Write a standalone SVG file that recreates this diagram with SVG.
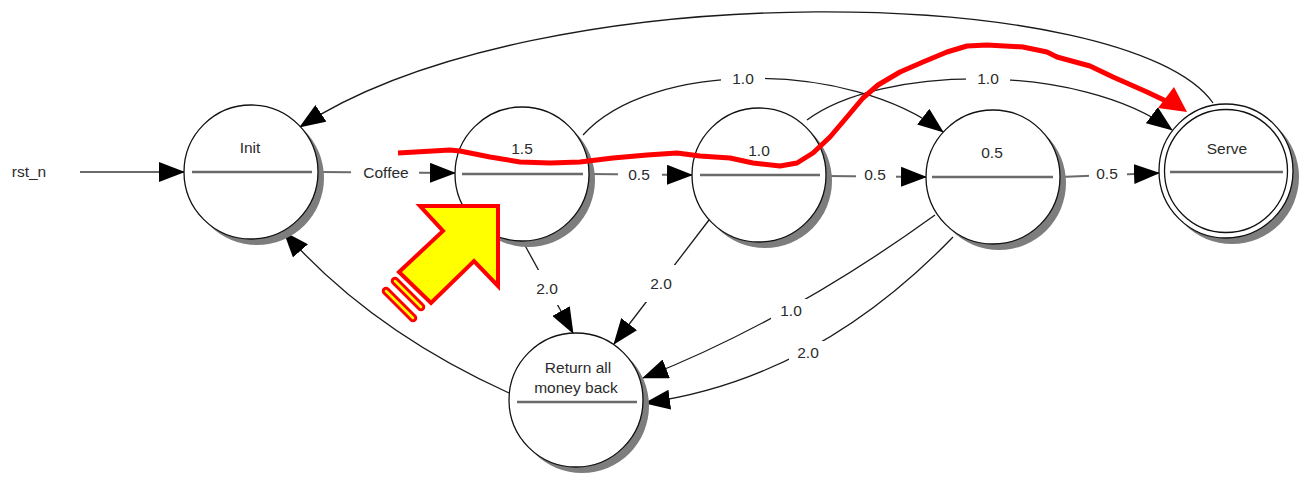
<svg xmlns="http://www.w3.org/2000/svg" width="1302" height="478" viewBox="0 0 1302 478">
  <style>
    .shadow{fill:#7d7d7d}
    .state{fill:#fff;stroke:#111;stroke-width:1.3}
    .divider{stroke:#6a6a6a;stroke-width:2.3}
    .lbl{font-family:"Liberation Sans",Arial,Helvetica,sans-serif;font-size:15.5px;fill:#2b2b2b;text-anchor:middle}
    .edge{fill:none;stroke:#1a1a1a;stroke-width:1.3;marker-end:url(#ah)}
    .hedge{fill:none;stroke:#6a6a6a;stroke-width:2;marker-end:url(#ah)}
    .bg{fill:#fff}
  </style>
  <defs>
    <marker id="ah" markerUnits="userSpaceOnUse" markerWidth="26" markerHeight="20" viewBox="0 0 26 20" refX="25" refY="10" orient="auto">
      <path d="M0,0 L26,10 L0,20 z" fill="#000"/>
    </marker>
    <filter id="soft" x="-10%" y="-10%" width="120%" height="120%">
      <feGaussianBlur stdDeviation="0.6"/>
    </filter>
  </defs>
  <rect width="1302" height="478" fill="#fff"/>

  <!-- connectors -->
  <g id="connectors">
    <g id="edge-reset">
      <text class="lbl" x="29" y="177">rst_n</text>
      <path class="hedge" d="M80,172 L184,172"/>
    </g>
    <path id="edge-init-15" class="hedge" d="M318,172 L455,173"/>
    <path id="edge-15-10" class="hedge" d="M589,174 L692,175"/>
    <path id="edge-10-05" class="hedge" d="M826,176 L926,177"/>
    <path id="edge-05-serve" class="hedge" d="M1060,177 L1159,173"/>
    <path id="edge-15-05" class="edge" d="M583,135 C650,60 850,60 943,132"/>
    <path id="edge-10-serve" class="edge" d="M807,120 C880,65 1080,62 1172,130"/>
    <path id="edge-serve-init" class="edge" d="M1213,103 C1130,-15 540,-30 300,127"/>
    <path id="edge-15-return" class="edge" d="M522,240 L573,333"/>
    <path id="edge-10-return" class="edge" d="M709,220 L614,344"/>
    <path id="edge-05-return-a" class="edge" d="M935,215 Q790,320 643,378"/>
    <path id="edge-05-return-b" class="edge" d="M953,237 Q815,380 645,403"/>
    <path id="edge-return-init" class="edge" d="M509,393 Q370,330 284,232"/>

    <!-- transition labels -->
    <g id="edge-labels">
      <rect class="bg" x="351" y="162" width="68" height="21"/>
      <text class="lbl" x="386" y="178">Coffee</text>
      <rect class="bg" x="618" y="164" width="44" height="21"/>
      <text class="lbl" x="639" y="179.5">0.5</text>
      <rect class="bg" x="856" y="166" width="40" height="21"/>
      <text class="lbl" x="875" y="179.5">0.5</text>
      <rect class="bg" x="1089" y="165" width="38" height="21"/>
      <text class="lbl" x="1107" y="179">0.5</text>
      <rect class="bg" x="721" y="67" width="44" height="22"/>
      <text class="lbl" x="743" y="83.5">1.0</text>
      <rect class="bg" x="966" y="67" width="44" height="22"/>
      <text class="lbl" x="988" y="83.5">1.0</text>
      <rect class="bg" x="532" y="270" width="30" height="35"/>
      <text class="lbl" x="547" y="293.5">2.0</text>
      <rect class="bg" x="644" y="265" width="36" height="37"/>
      <text class="lbl" x="661" y="288.5">2.0</text>
      <rect class="bg" x="771" y="299" width="41" height="24"/>
      <text class="lbl" x="791" y="315.5">1.0</text>
      <rect class="bg" x="789" y="341" width="39" height="23"/>
      <text class="lbl" x="808" y="357.5">2.0</text>
    </g>
  </g>

  <!-- states -->
  <g id="node-init">
    <circle class="shadow" cx="257" cy="178" r="67" filter="url(#soft)"/>
    <circle class="state" cx="251" cy="172" r="67"/>
    <line class="divider" x1="192" y1="172" x2="312" y2="172"/>
    <text class="lbl" x="250" y="152.5">Init</text>
  </g>
  <g id="node-15">
    <circle class="shadow" cx="528" cy="180" r="67" filter="url(#soft)"/>
    <circle class="state" cx="522" cy="174" r="67"/>
    <line class="divider" x1="462" y1="174" x2="583" y2="174"/>
    <text class="lbl" x="522" y="153.5">1.5</text>
  </g>
  <g id="node-10">
    <circle class="shadow" cx="765" cy="181" r="67" filter="url(#soft)"/>
    <circle class="state" cx="759" cy="175" r="67"/>
    <line class="divider" x1="700" y1="175" x2="820" y2="175"/>
    <text class="lbl" x="759" y="155.5">1.0</text>
  </g>
  <g id="node-05">
    <circle class="shadow" cx="999" cy="183" r="67" filter="url(#soft)"/>
    <circle class="state" cx="993" cy="177" r="67"/>
    <line class="divider" x1="932" y1="177" x2="1053" y2="177"/>
    <text class="lbl" x="992" y="157.5">0.5</text>
  </g>
  <g id="node-serve">
    <circle class="shadow" cx="1232" cy="177" r="67" filter="url(#soft)"/>
    <circle class="state" cx="1226" cy="171" r="67"/>
    <circle class="state" cx="1226" cy="171" r="61.5"/>
    <line class="divider" x1="1170" y1="172" x2="1283" y2="172"/>
    <text class="lbl" x="1227" y="153.5">Serve</text>
  </g>
  <g id="node-return">
    <circle class="shadow" cx="582" cy="406" r="67" filter="url(#soft)"/>
    <circle class="state" cx="576" cy="400" r="67"/>
    <line class="divider" x1="517" y1="402" x2="637" y2="402"/>
    <text class="lbl" x="578" y="372.5">Return all</text>
    <text class="lbl" x="576" y="392.5">money back</text>
  </g>

  <!-- hand-drawn highlight: path through the states and pointer arrow -->
  <g id="annotations">
    <polyline fill="none" stroke="#ff0000" stroke-width="5" stroke-linejoin="round" stroke-linecap="butt"
      points="398,153 450,150 460,151 490,157 520,162 550,163 580,162 613,158 647,155 677,153 700,156 730,158 753,163 780,166 797,163 813,153 830,137 847,117 863,98 878,85 900,72 923,62 947,52 967,46 987,45 1023,47 1047,52 1057,57 1090,66 1113,77 1147,92 1166,101"/>
    <polygon points="1187,112 1158,108 1174,87" fill="#ff0000"/>
    <polygon points="498,206 420,206 443,231 399,272 431,303 474,261 498,286" fill="#ffff00" stroke="#ff0000" stroke-width="4" stroke-linejoin="miter"/>
    <line x1="395" y1="281" x2="421" y2="307" stroke="#ff0000" stroke-width="8.5" stroke-linecap="round"/>
    <line x1="395" y1="281" x2="421" y2="307" stroke="#ffff00" stroke-width="2.5" stroke-linecap="round"/>
    <line x1="386" y1="291" x2="413" y2="318" stroke="#ff0000" stroke-width="8.5" stroke-linecap="round"/>
    <line x1="386" y1="291" x2="413" y2="318" stroke="#ffff00" stroke-width="2.5" stroke-linecap="round"/>
  </g>
</svg>
